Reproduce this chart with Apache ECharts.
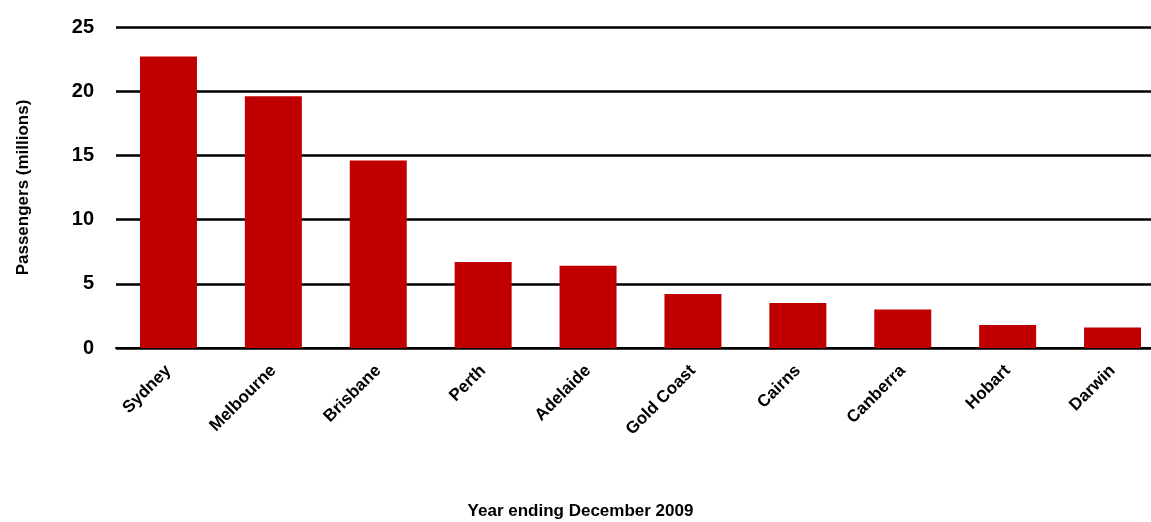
<!DOCTYPE html>
<html><head><meta charset="utf-8">
<script src="https://cdn.jsdelivr.net/npm/echarts@6/dist/echarts.min.js"></script>
<style>html,body{margin:0;padding:0;background:#fff}#c{width:1151px;height:522px}</style>
</head><body><div id="c"></div>
<script>
var cities = ['Sydney', 'Melbourne', 'Brisbane', 'Perth', 'Adelaide', 'Gold Coast', 'Cairns', 'Canberra', 'Hobart', 'Darwin'];
var passengers = [22.7, 19.6, 14.6, 6.7, 6.4, 4.2, 3.5, 3.0, 1.8, 1.6];

var chart = echarts.init(document.getElementById('c'));
var font = 'Liberation Sans, Arial, sans-serif';
chart.setOption({
    animation: false,
    grid: { left: 116, right: -14, top: 27, bottom: 174, outerBoundsMode: 'none', containLabel: false },
    xAxis: {
        type: 'category',
        data: cities,
        name: 'Year ending December 2009',
        nameLocation: 'middle',
        nameGap: 155,
        nameTextStyle: { fontFamily: font, fontWeight: 'bold', fontSize: 17, color: '#000', padding: [0, 0, 0, -120] },
        axisLine: { lineStyle: { color: '#000', width: 2 } },
        axisTick: { show: false },
        axisLabel: { rotate: 45, interval: 0, fontFamily: font, fontWeight: 'bold', fontSize: 17, color: '#000', margin: 20 }
    },
    yAxis: {
        type: 'value',
        min: 0, max: 25, interval: 5,
        name: 'Passengers (millions)',
        nameLocation: 'middle',
        nameGap: 84,
        nameTextStyle: { fontFamily: font, fontWeight: 'bold', fontSize: 17, color: '#000' },
        axisLine: { show: false },
        axisTick: { show: false },
        splitLine: { lineStyle: { color: '#000', width: 2.5 } },
        axisLabel: { fontFamily: font, fontWeight: 'bold', fontSize: 20, color: '#000', margin: 22 }
    },
    series: [{
        type: 'bar',
        data: passengers,
        barWidth: 57,
        itemStyle: { color: '#c00000' }
    }]
});
</script></body></html>
